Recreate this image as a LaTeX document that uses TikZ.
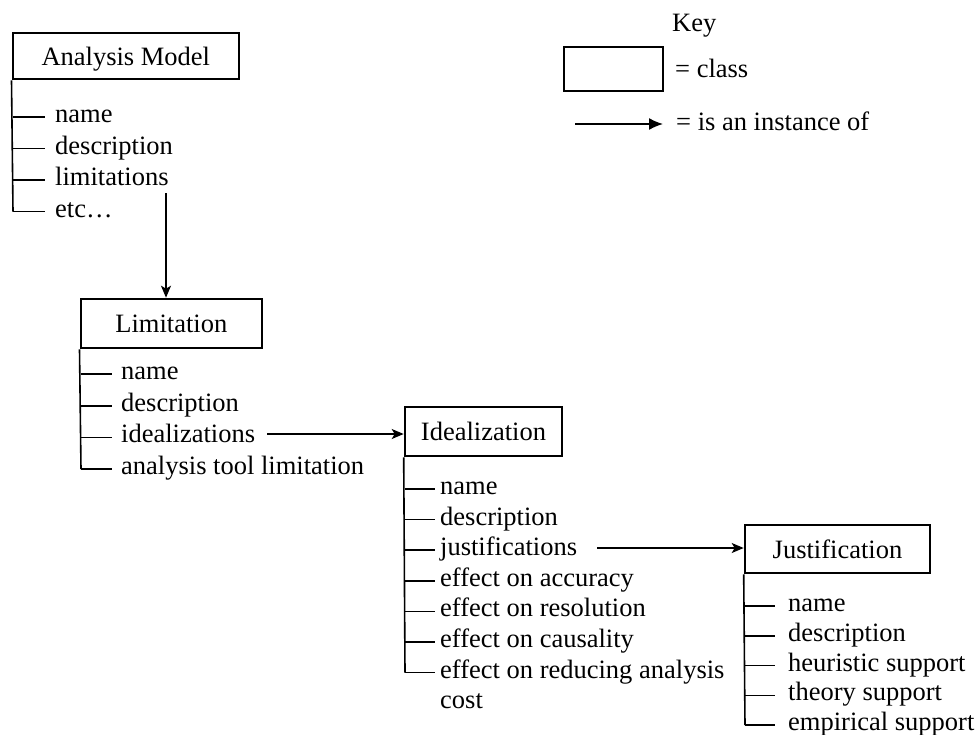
\documentclass[tikz,border=0pt]{standalone}
\usepackage{fontspec}
\setmainfont{Liberation Serif}
\usetikzlibrary{arrows.meta}
\begin{document}
\begin{tikzpicture}[x=1pt,y=-1pt,
  every node/.style={font=\fontsize{26.5}{31}\selectfont},
  classbox/.style={draw,line width=2.6pt,inner sep=0pt,text height=18pt,text depth=0pt},
  tree/.style={line width=1.6pt},
  conn/.style={line width=1.5pt,-{Stealth[length=12pt,width=10pt,inset=3pt]}},
  keyarrow/.style={line width=1.5pt,-{Latex[length=14pt,width=12pt]}},
  item/.style={anchor=base west,inner sep=0pt}]
\useasboundingbox (0,0) rectangle (977,734);

% ---------- Key ----------
\node[anchor=base west,inner sep=0pt] (keyt) at (672,31) {Key};
\node[classbox,minimum width=99pt,minimum height=44pt] (keybox) at (613.5,69) {};
\node[anchor=base west,inner sep=0pt] (keyc) at (675,77) {= class};
\coordinate (ka) at (575,124);
\coordinate (kb) at (663,124);
\draw[keyarrow] (ka) -- (kb);
\node[anchor=base west,inner sep=0pt] (keyi) at (676,130) {= is an instance of};

% ---------- Analysis Model ----------
\node[classbox,minimum width=226pt,minimum height=46pt] (am) at (125.8,56) {Analysis Model};
\foreach \t [count=\i] in {name,description,limitations,etc\ldots}{
  \pgfmathsetmacro{\yy}{117+31.5*(\i-1)}
  \draw[tree] (13,\yy) -- (45,\yy);
  \node[item] (am\i) at (55,\yy+5.5) {\t};
}
\draw[tree] (am.south west) -- (13,211.5);

% ---------- Limitation ----------
\node[classbox,minimum width=181pt,minimum height=49pt] (lim) at (171.3,323.5) {Limitation};
\foreach \t [count=\i] in {name,description,idealizations,analysis tool limitation}{
  \pgfmathsetmacro{\yy}{374+31.7*(\i-1)}
  \draw[tree] (81,\yy) -- (112,\yy);
  \node[item] (li\i) at (121,\yy+5.5) {\t};
}
\draw[tree] (lim.south west) -- (81,469.1);

\coordinate (amarr) at (166,193);
\draw[conn] (amarr) -- (amarr |- lim.north);

% ---------- Idealization ----------
\node[classbox,minimum width=157pt,minimum height=49pt] (ideal) at (483.5,431.5) {Idealization};
\foreach \t [count=\i] in {name,description,justifications,effect on accuracy,effect on resolution,effect on causality,effect on reducing analysis}{
  \pgfmathsetmacro{\yy}{489+30.6*(\i-1)}
  \draw[tree] (405,\yy) -- (435,\yy);
  \node[item] (id\i) at (440,\yy+5.5) {\t};
}
\node[item] (id8) at (440,708.7) {cost};
\draw[tree] (ideal.south west) -- (405,672.6);

\coordinate (liarr) at (267,434);
\draw[conn] (liarr) -- (liarr -| ideal.west);

% ---------- Justification ----------
\node[classbox,minimum width=185pt,minimum height=48pt] (just) at (837.5,549) {Justification};
\foreach \t [count=\i] in {name,description,heuristic support,theory support,empirical support}{
  \pgfmathsetmacro{\yy}{606+29.8*(\i-1)}
  \draw[tree] (745,\yy) -- (775,\yy);
  \node[item] (ju\i) at (788,\yy+5.5) {\t};
}
\draw[tree] (just.south west) -- (745,725.2);

\coordinate (idarr) at (597,548);
\draw[conn] (idarr) -- (idarr -| just.west);
\end{tikzpicture}
\end{document}
